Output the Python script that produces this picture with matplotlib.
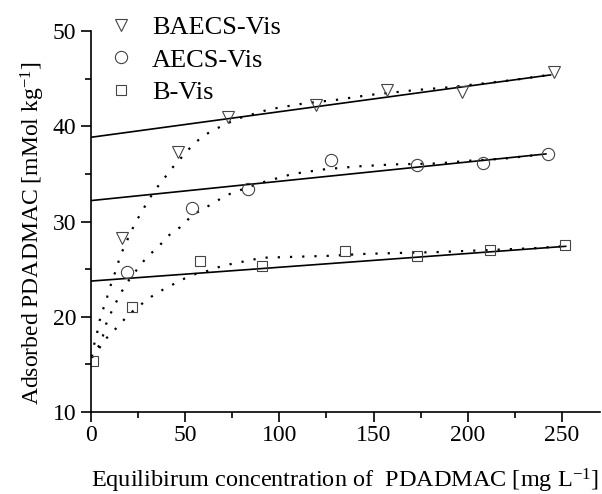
import matplotlib
matplotlib.use("Agg")
import matplotlib.pyplot as plt
from matplotlib.ticker import MultipleLocator

plt.rcParams['font.family'] = ['Liberation Serif', 'DejaVu Serif']
plt.rcParams['mathtext.fontset'] = 'custom'
plt.rcParams['mathtext.rm'] = 'Liberation Serif'
plt.rcParams['mathtext.it'] = 'Liberation Serif:italic'

# measured points
baecs_x = [16.5, 46, 72.6, 119.7, 157.4, 197, 245.6]
baecs_y = [28.3, 37.3, 41.0, 42.2, 43.8, 43.6, 45.7]
aecs_x = [19, 53.6, 83.6, 127.6, 173, 208, 242.4]
aecs_y = [24.7, 31.4, 33.4, 36.5, 35.9, 36.1, 37.1]
bvis_x = [1, 22, 58, 91, 135, 173, 212, 251.6]
bvis_y = [15.4, 21.0, 25.9, 25.3, 26.9, 26.4, 27.0, 27.5]

# linear fits (end points)
baecs_lin_x = [0, 244]
baecs_lin_y = [38.85, 45.4]
aecs_lin_x = [0, 241.5]
aecs_lin_y = [32.2, 37.1]
bvis_lin_x = [0, 252]
bvis_lin_y = [23.75, 27.4]

# dotted fit curves
baecs_fit_x = [0.5, 1.6, 3.2, 4.2, 5.9, 8, 9.6, 13.8, 15.4, 18, 23.4, 30.4, 34,
               38.4, 43, 48.4, 53.8, 59.6, 66, 72.3, 77.7, 95, 113, 131, 148,
               172, 190, 208, 225.5, 243]
baecs_fit_y = [15.8, 17.0, 18.2, 19.3, 20.5, 21.6, 22.8, 25.2, 26.3, 27.5, 29.8,
               32.2, 33.3, 34.4, 35.6, 36.8, 38.0, 39.0, 39.7, 40.3, 40.8, 41.8,
               42.4, 42.8, 43.3, 43.8, 44.1, 44.5, 44.9, 45.4]
aecs_fit_x = [0.5, 2.5, 4.8, 8, 10.6, 13.3, 16.5, 20.7, 25, 29.8, 35.6, 41, 47.3,
              53, 59, 65, 71, 89, 107, 124.5, 142, 160, 184, 201.6, 219, 237]
aecs_fit_y = [15.7, 16.3, 16.8, 19.2, 20.4, 21.5, 22.7, 24.0, 25.1, 26.3, 27.3,
              28.5, 29.4, 30.5, 31.3, 31.9, 32.7, 34.0, 35.0, 35.5, 35.8, 36.0,
              36.1, 36.4, 36.6, 37.0]
bvis_fit_x = [0.5, 2, 4.5, 9, 14.4, 19.9, 26, 32, 37.8, 43.6, 49.5, 55.6, 61.7,
              67.5, 73.4, 91, 108.5, 126, 145, 163, 185, 210, 235, 250]
bvis_fit_y = [15.7, 16.4, 17.0, 17.9, 19.0, 20.2, 21.2, 22.1, 22.8, 23.4, 24.0,
              24.5, 24.8, 25.2, 25.5, 26.2, 26.3, 26.4, 26.6, 26.7, 26.8, 27.0,
              27.2, 27.4]

fig = plt.figure(figsize=(6.02, 4.94), dpi=100)
ax = fig.add_axes([0.151, 0.166, 0.845, 0.771])

dot = (0, (1, 4.5))
for fx, fy in [(baecs_fit_x, baecs_fit_y), (aecs_fit_x, aecs_fit_y),
               (bvis_fit_x, bvis_fit_y)]:
    ax.plot(fx, fy, color='black', linestyle=dot, linewidth=1.6)
for lx, ly in [(baecs_lin_x, baecs_lin_y), (aecs_lin_x, aecs_lin_y),
               (bvis_lin_x, bvis_lin_y)]:
    ax.plot(lx, ly, color='black', linewidth=1.2)

mk = dict(linestyle='none', markerfacecolor='none', markeredgecolor='#444444',
          markeredgewidth=0.8)
h1, = ax.plot(baecs_x, baecs_y, marker='v', markersize=9.2, label='BAECS-Vis', **mk)
h2, = ax.plot(aecs_x, aecs_y, marker='o', markersize=8.8, label='AECS-Vis', **mk)
h3, = ax.plot(bvis_x, bvis_y, marker='s', markersize=6.8, label='B-Vis', **mk)

ax.set_xlim(0, 270)
ax.set_ylim(10, 50)
ax.xaxis.set_major_locator(MultipleLocator(50))
ax.xaxis.set_minor_locator(MultipleLocator(25))
ax.yaxis.set_major_locator(MultipleLocator(10))
ax.yaxis.set_minor_locator(MultipleLocator(5))
ax.tick_params(which='major', length=7, width=1.2, labelsize=17, direction='out')
ax.tick_params(axis='x', which='major', pad=2.5)
ax.tick_params(which='minor', length=4, width=1.2, direction='out')
for s in ['top', 'right']:
    ax.spines[s].set_visible(False)
for s in ['left', 'bottom']:
    ax.spines[s].set_linewidth(1.2)

ax.set_xlabel('Equilibirum concentration of  PDADMAC [mg L$^{-1}$]', fontsize=17.5,
              labelpad=15)
ax.set_ylabel('Adsorbed PDADMAC [mMol kg$^{-1}$]', fontsize=17)
ax.yaxis.set_label_coords(-0.087, 0.47)

ax.legend(handles=[h1, h2, h3], loc='upper left', bbox_to_anchor=(0.163, 0.973),
          bbox_transform=fig.transFigure, frameon=False, fontsize=19,
          handletextpad=0.45, labelspacing=0.33, handlelength=1.5,
          borderpad=0.1, borderaxespad=0.0)

fig.savefig('out.png', dpi=100)
